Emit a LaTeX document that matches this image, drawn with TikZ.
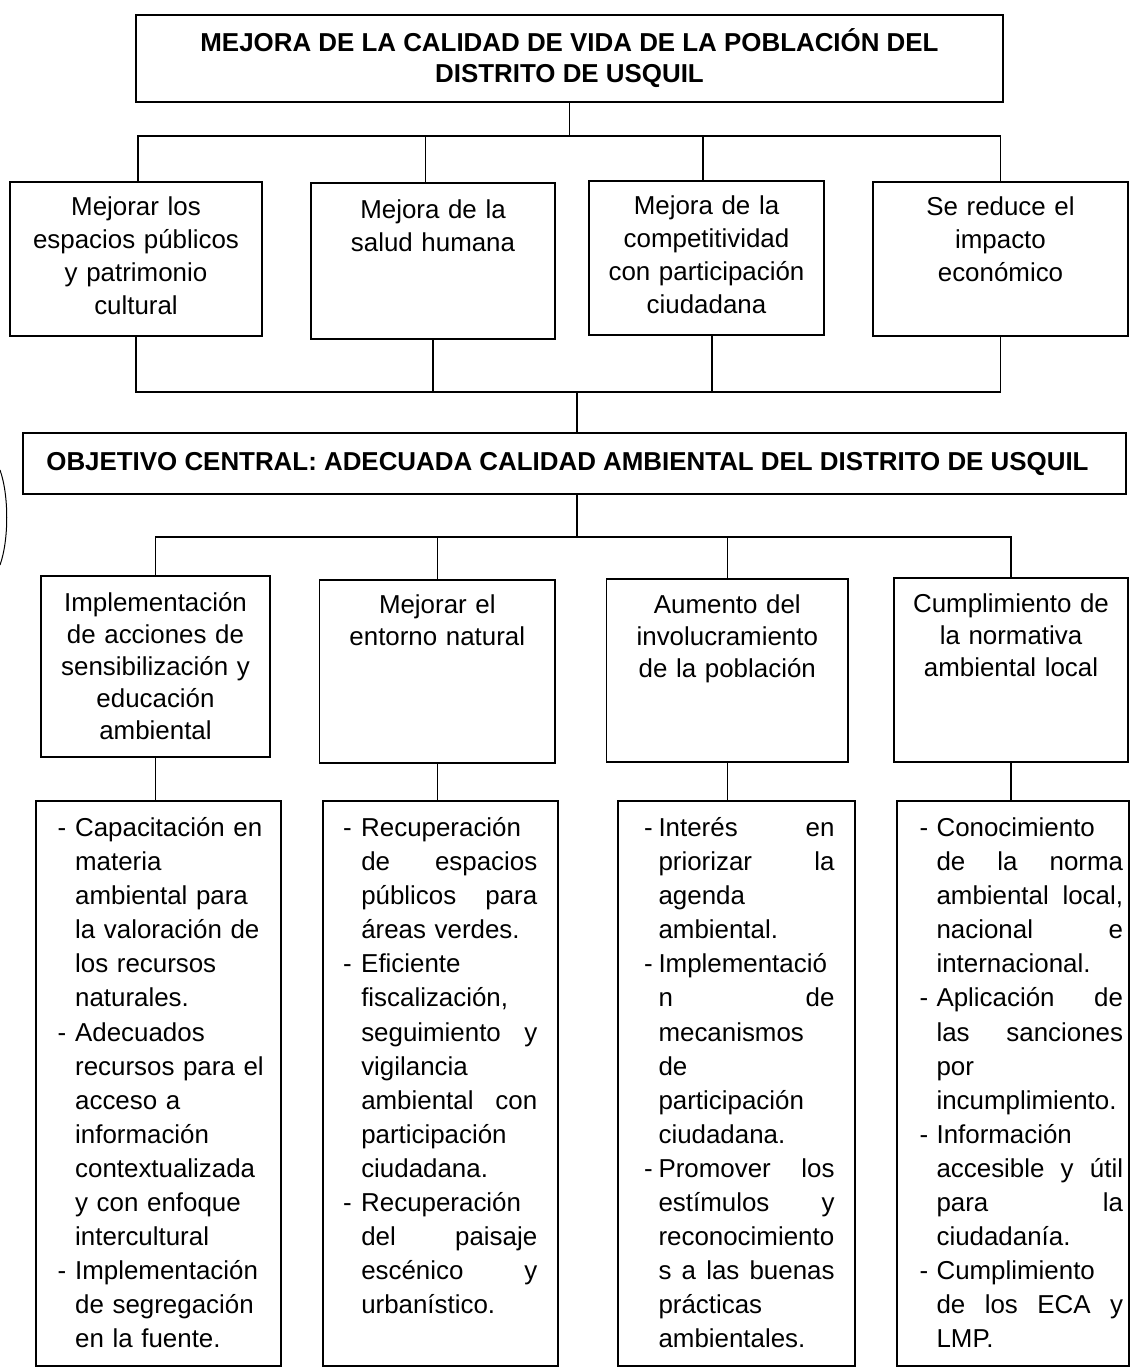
\documentclass[tikz,border=0pt]{standalone}
\usepackage{fontspec}
\setmainfont{Liberation Sans}
\usetikzlibrary{calc}
\newlength\dw \newlength\tw
\newcommand\Jline[1]{\hbox to \tw{\spaceskip=0.278em plus 1fil\relax #1}}
\newcommand\Ji[1]{\makebox[\dw][l]{-}\Jline{#1}}
\newcommand\Jc[1]{\hspace*{\dw}\Jline{#1}}
\newcommand\Ri[1]{\makebox[\dw][l]{-}#1}
\newcommand\Rc[1]{\hspace*{\dw}#1}
\tikzset{
  box/.style={draw, line width=1.6pt, inner sep=0pt},
  lbox/.style={draw, line width=1.3pt, inner sep=0pt},
  conn/.style={line width=1.6pt},
  uptext/.style={anchor=north, inner sep=0pt, align=center, font=\fontsize{25.9}{33}\selectfont},
  midtext/.style={anchor=north, inner sep=0pt, align=center, font=\fontsize{25.9}{32}\selectfont},
  listtext/.style={anchor=north west, inner sep=0pt, align=left, font=\fontsize{25.9}{34.1}\selectfont},
  title/.style={font=\fontsize{25.9}{31}\selectfont\bfseries, align=center}
}
\begin{document}
\begin{tikzpicture}[x=1pt,y=-1pt]
\useasboundingbox (0,0) rectangle (1131,1368);
% top
\node[box, title, minimum width=867pt, minimum height=87pt] (top) at (569.5,58.5)
  {MEJORA DE LA CALIDAD DE VIDA DE LA POBLACIÓN DEL\\DISTRITO DE USQUIL};
% row 1 boxes
\node[box, minimum width=252pt, minimum height=154pt] (b1) at (136,259) {};
\node[box, minimum width=244pt, minimum height=156pt] (b2) at (433,261) {};
\node[box, minimum width=235pt, minimum height=154pt] (b3) at (706.5,258) {};
\node[box, minimum width=255pt, minimum height=154pt] (b4) at (1000.5,259) {};
\node[uptext, text width=250pt] (b1t) at ($(b1.north)+(0,11)$) {\strut Mejorar los\\espacios públicos\\y patrimonio\\cultural};
\node[uptext, text width=240pt] (b2t) at ($(b2.north)+(0,13)$) {\strut Mejora de la\\salud humana};
\node[uptext, text width=233pt] (b3t) at ($(b3.north)+(0,11)$) {\strut Mejora de la\\competitividad\\con participación\\ciudadana};
\node[uptext, text width=250pt] (b4t) at ($(b4.north)+(0,11)$) {\strut Se reduce el\\impacto\\económico};
% central
\node[box, title, minimum width=1103pt, minimum height=61pt] (obj) at (574.5,463.5)
  {OBJETIVO CENTRAL: ADECUADA CALIDAD AMBIENTAL DEL DISTRITO DE USQUIL\hspace*{14pt}};
% row 2 boxes
\node[box, minimum width=229pt, minimum height=181pt] (c1) at (155.5,666.5) {};
\node[box, minimum width=235.5pt, minimum height=183pt] (c2) at (437.3,671.5) {};
\node[box, minimum width=241.5pt, minimum height=183pt] (c3) at (727.3,670.5) {};
\node[box, minimum width=234pt, minimum height=184pt] (c4) at (1011,670) {};
\node[midtext, text width=228pt] (c1t) at ($(c1.north)+(0,13.5)$) {\strut Implementación\\de acciones de\\sensibilización y\\educación\\ambiental};
\node[midtext, text width=234pt] (c2t) at ($(c2.north)+(0,12)$) {\strut Mejorar el\\entorno natural};
\node[midtext, text width=240pt] (c3t) at ($(c3.north)+(0,12.5)$) {\strut Aumento del\\involucramiento\\de la población};
\node[midtext, text width=232pt] (c4t) at ($(c4.north)+(0,13)$) {\strut Cumplimiento de\\la normativa\\ambiental local};
% row 3 boxes
\node[lbox, minimum width=245pt, minimum height=565pt] (d1) at (158.5,1083.5) {};
\node[lbox, minimum width=235pt, minimum height=565pt] (d2) at (440.5,1083.5) {};
\node[lbox, minimum width=237pt, minimum height=565pt] (d3) at (736.5,1083.5) {};
\node[lbox, minimum width=232pt, minimum height=565pt] (d4) at (1013,1083.5) {};
\node[listtext, text width=215pt] (d1t) at ($(d1.north west)+(22,12)$) {\setlength\dw{17.6pt}\setlength\tw{190pt}%
\strut\Ri{Capacitación en}\\
\Rc{materia}\\
\Rc{ambiental para}\\
\Rc{la valoración de}\\
\Rc{los recursos}\\
\Rc{naturales.}\\
\Ri{Adecuados}\\
\Rc{recursos para el}\\
\Rc{acceso a}\\
\Rc{información}\\
\Rc{contextualizada}\\
\Rc{y con enfoque}\\
\Rc{intercultural}\\
\Ri{Implementación}\\
\Rc{de segregación}\\
\Rc{en la fuente.}};
\node[listtext, text width=200pt] (d2t) at ($(d2.north west)+(20.5,12)$) {\setlength\dw{18.2pt}\setlength\tw{176pt}%
\strut\Ri{Recuperación}\\
\Jc{de espacios}\\
\Jc{públicos para}\\
\Rc{áreas verdes.}\\
\Ri{Eficiente}\\
\Rc{fiscalización,}\\
\Jc{seguimiento y}\\
\Rc{vigilancia}\\
\Jc{ambiental con}\\
\Rc{participación}\\
\Rc{ciudadana.}\\
\Ri{Recuperación}\\
\Jc{del paisaje}\\
\Jc{escénico y}\\
\Rc{urbanístico.}};
\node[listtext, text width=200pt] (d3t) at ($(d3.north west)+(26.5,12)$) {\setlength\dw{14.5pt}\setlength\tw{176pt}%
\strut\Ji{Interés en}\\
\Jc{priorizar la}\\
\Rc{agenda}\\
\Rc{ambiental.}\\
\Ri{Implementació}\\
\Jc{n de}\\
\Rc{mecanismos}\\
\Rc{de}\\
\Rc{participación}\\
\Rc{ciudadana.}\\
\Ji{Promover los}\\
\Jc{estímulos y}\\
\Rc{reconocimiento}\\
\Jc{s a las buenas}\\
\Rc{prácticas}\\
\Rc{ambientales.}};
\node[listtext, text width=210pt] (d4t) at ($(d4.north west)+(23,12)$) {\setlength\dw{17pt}\setlength\tw{186.5pt}%
\strut\Ri{Conocimiento}\\
\Jc{de la norma}\\
\Jc{ambiental local,}\\
\Jc{nacional e}\\
\Rc{internacional.}\\
\Ji{Aplicación de}\\
\Jc{las sanciones}\\
\Rc{por}\\
\Rc{incumplimiento.}\\
\Ri{Información}\\
\Jc{accesible y útil}\\
\Jc{para la}\\
\Rc{ciudadanía.}\\
\Ri{Cumplimiento}\\
\Jc{de los ECA y}\\
\Rc{LMP.}};
% connectors: top to row 1
\coordinate (j1) at (569.5,136);
\coordinate (j1b) at (425.5,136);
\draw[conn] (top.south) -- (j1);
\draw[conn] ([xshift=2pt]b1.north) |- (j1) -| (b4.north);
\draw[conn] (j1b) -- (j1b |- b2.north);
\draw[conn] ([xshift=-3.5pt]b3.north) -- ([xshift=-3.5pt]b3.north |- j1);
% row 1 to central
\coordinate (j2) at (577,392);
\draw[conn] (b1.south) |- (j2) -| (b4.south);
\draw[conn] (b2.south) -- (b2.south |- j2);
\draw[conn] ([xshift=5.5pt]b3.south) -- ([xshift=5.5pt]b3.south |- j2);
\draw[conn] (j2) -- (j2 |- obj.north);
% central to row 2
\coordinate (j3) at (577,537);
\draw[conn] (obj.south -| j3) -- (j3);
\draw[conn] (c1.north) |- (j3) -| (c4.north);
\draw[conn] (c2.north) -- (c2.north |- j3);
\draw[conn] (c3.north) -- (c3.north |- j3);
% row 2 to row 3
\draw[conn] (c1.south) -- (c1.south |- d1.north);
\draw[conn] (c2.south) -- (c2.south |- d2.north);
\draw[conn] (c3.south) -- (c3.south |- d3.north);
\draw[conn] (c4.south) -- (c4.south |- d4.north);
% scan mark at the left edge
\draw[line width=1pt] (0,470) .. controls (9,495) and (9,540) .. (0,565);
\end{tikzpicture}
\end{document}
